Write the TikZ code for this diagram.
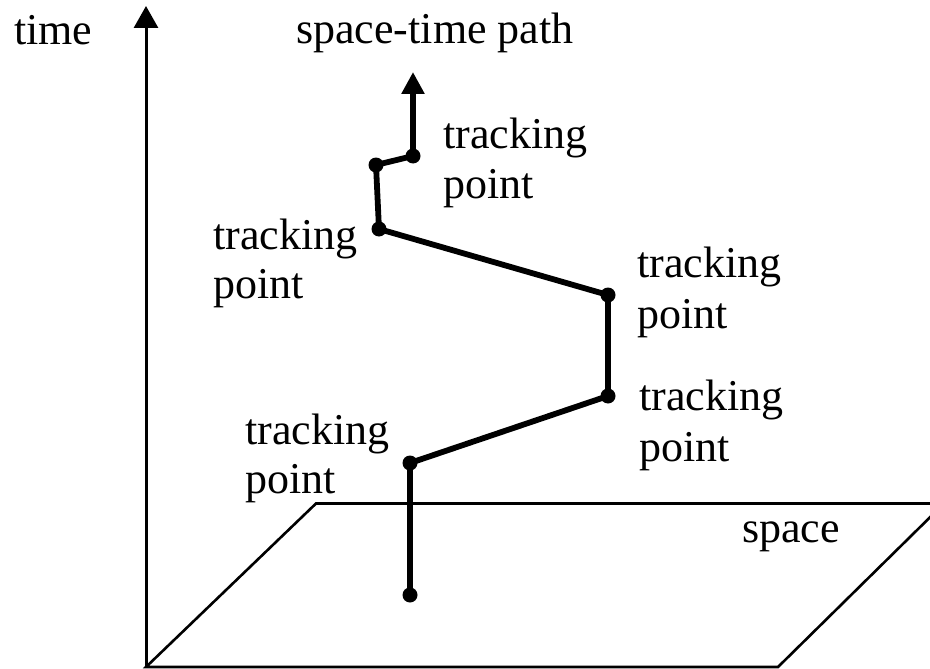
\documentclass[tikz,border=0pt]{standalone}
\usepackage{fontspec}
\setmainfont{Liberation Serif}
\usetikzlibrary{arrows.meta}
\begin{document}
\begin{tikzpicture}[x=1pt,y=-1pt,
  lbl/.style={anchor=base west,inner sep=0pt,font=\fontsize{44}{50}\selectfont},
  pathline/.style={line width=5.8pt,line join=round},
  dot/.style={circle,fill=black,inner sep=0pt,minimum size=15pt},
  axisline/.style={line width=3pt},
  planeline/.style={line width=2.6pt,line join=miter}]
\useasboundingbox (0,0) rectangle (930,669);
\clip (0,0) rectangle (930,669);
% plane
\coordinate (o) at (146,667);
\coordinate (tl) at (316,503.5);
\coordinate (tr) at (944,503.5);
\coordinate (br) at (778,667);
\coordinate (ttop) at (146,6);
\draw[planeline] (o) -- (tl) -- (tr) -- (br) -- cycle;
% time axis
\draw[axisline,-{Triangle[width=24pt,length=22pt]}] (o) -- (ttop);
% space-time path
\node[dot] (p0) at (410,595) {};
\node[dot] (p1) at (410,463) {};
\node[dot] (p2) at (608,396) {};
\node[dot] (p3) at (608,295) {};
\node[dot] (p4) at (379,229) {};
\node[dot] (p5) at (376,165) {};
\node[dot] (p6) at (413,156) {};
\coordinate (pend) at (413,72);
\draw[pathline] (p0.center) -- (p1.center) -- (p2.center) -- (p3.center) -- (p4.center) -- (p5.center) -- (p6.center);
\draw[pathline,-{Triangle[width=22pt,length=22pt]}] (p6.center) -- (pend);
% labels
\node[lbl] (time) at (14,45) {time};
\node[lbl] (stp) at (296,44) {space-time path};
\node[lbl] (space) at (742,542) {space};
\node[lbl] (t1a) at (443,149) {tracking};
\node[lbl] (t1b) at (443,198) {point};
\node[lbl] (t2a) at (213,249) {tracking};
\node[lbl] (t2b) at (213,298) {point};
\node[lbl] (t3a) at (637,277) {tracking};
\node[lbl] (t3b) at (637,328) {point};
\node[lbl] (t4a) at (639,410) {tracking};
\node[lbl] (t4b) at (639,461) {point};
\node[lbl] (t5a) at (245,444) {tracking};
\node[lbl] (t5b) at (245,493) {point};
\end{tikzpicture}
\end{document}
